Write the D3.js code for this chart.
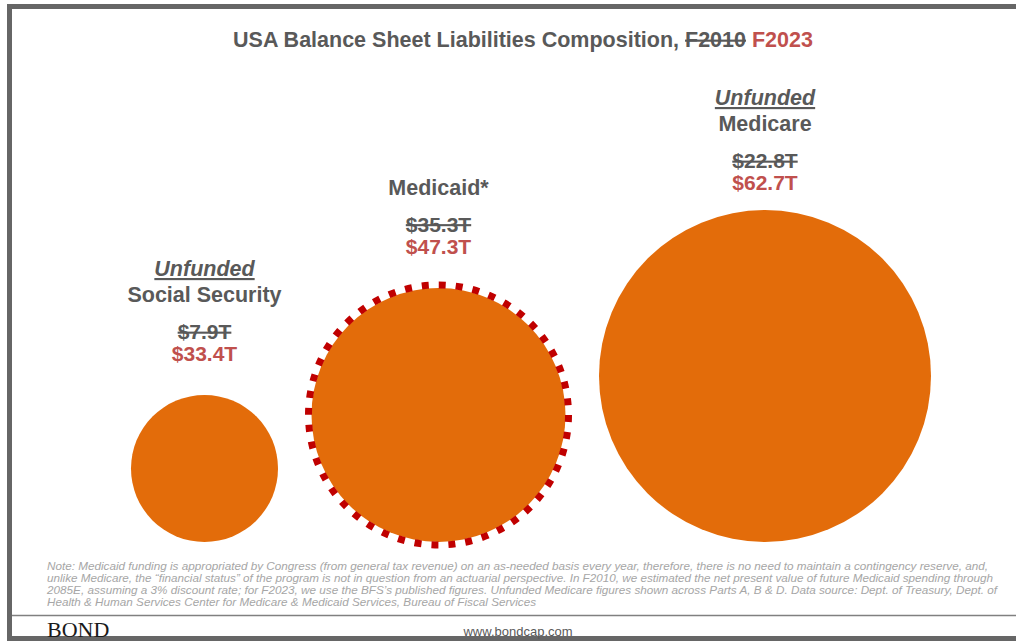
<!DOCTYPE html>
<html>
<head>
<meta charset="utf-8">
<script src="https://cdn.jsdelivr.net/npm/d3@7"></script>
<style>
  body { margin: 0; background: #fff; }
  svg { display: block; font-family: "Liberation Sans", Arial, sans-serif; }
</style>
</head>
<body>
<svg id="chart"></svg>
<script>
// data
let programs = ['Social Security', 'Medicaid*', 'Medicare'];
let unfunded = [true, false, true];
let valuesF2010 = [7.9, 35.3, 22.8];
let valuesF2023 = [33.4, 47.3, 62.7];

let noteLines = [
  'Note: Medicaid funding is appropriated by Congress (from general tax revenue) on an as-needed basis every year, therefore, there is no need to maintain a contingency reserve, and,',
  'unlike Medicare, the \u201cfinancial status\u201d of the program is not in question from an actuarial perspective. In F2010, we estimated the net present value of future Medicaid spending through',
  '2085E, assuming a 3% discount rate; for F2023, we use the BFS\u2019s published figures. Unfunded Medicare figures shown across Parts A, B & D. Data source: Dept. of Treasury, Dept. of',
  'Health & Human Services Center for Medicare & Medicaid Services, Bureau of Fiscal Services'
];

// layout
let width = 1016;
let height = 641;
let gray = '#595959';
let red = '#c0504d';
let orange = '#e36c0a';
let ringColor = '#c00000';
let bottomY = 542;
let startX = 131;
let gap = 27;
let ringExtra = 6.5;
let labelGap = [34, 28, 20];
let noteWidths = [941, 946, 950, 489];

let fmt = v => '$' + v.toFixed(1) + 'T';

let svg = d3.select('#chart').attr('width', width).attr('height', height);

// outer frame
svg.append('rect')
  .attr('x', 9.5).attr('y', 6.5)
  .attr('width', 1100).attr('height', 632)
  .attr('fill', 'none').attr('stroke', '#666').attr('stroke-width', 5);

// title
let title = svg.append('text')
  .attr('x', 523).attr('y', 47)
  .attr('text-anchor', 'middle')
  .attr('font-size', 21.5).attr('font-weight', 'bold')
  .attr('fill', gray);
title.append('tspan').text('USA Balance Sheet Liabilities Composition, ');
title.append('tspan').attr('text-decoration', 'line-through').text('F2010');
title.append('tspan').text(' ');
title.append('tspan').attr('fill', red).text('F2023');

// bubble sizes
let rScale = d3.scaleLinear()
  .domain(valuesF2023.slice().sort(d3.ascending))
  .range([73.5, 127, 166]);

let items = programs.map((p, i) => ({
  name: p,
  unfunded: unfunded[i],
  old: valuesF2010[i],
  now: valuesF2023[i],
  r: rScale(valuesF2023[i]),
  ring: !unfunded[i]
}));

let x = startX;
items.forEach(d => {
  let extra = d.ring ? ringExtra : 0;
  d.cx = x + extra + d.r;
  d.cy = bottomY - d.r;
  x = d.cx + d.r + extra + gap;
});

let g = svg.append('g');

g.selectAll('circle.bubble')
  .data(items)
  .enter()
  .append('circle')
  .attr('class', 'bubble')
  .attr('cx', d => d.cx)
  .attr('cy', d => d.cy)
  .attr('r', d => d.r)
  .attr('fill', orange);

g.selectAll('circle.ring')
  .data(items.filter(d => d.ring))
  .enter()
  .append('circle')
  .attr('class', 'ring')
  .attr('cx', d => d.cx)
  .attr('cy', d => d.cy)
  .attr('r', d => d.r + 3)
  .attr('fill', 'none')
  .attr('stroke', ringColor)
  .attr('stroke-width', 7)
  .attr('stroke-dasharray', d => {
    let c = 2 * Math.PI * (d.r + 3);
    let n = Math.round(c / 17);
    return '7 ' + (c / n - 7);
  });

// labels above each bubble
items.forEach((d, i) => {
  let top = d.cy - d.r - (d.ring ? ringExtra : 0);
  let yNow = top - labelGap[i];
  let yOld = yNow - 22;
  let yName = yOld - 37;
  let lg = svg.append('g')
    .attr('text-anchor', 'middle')
    .attr('font-weight', 'bold');

  lg.append('text')
    .attr('x', d.cx).attr('y', yNow)
    .attr('font-size', 21)
    .attr('fill', red)
    .text(fmt(d.now));
  lg.append('text')
    .attr('x', d.cx).attr('y', yOld)
    .attr('font-size', 21)
    .attr('fill', gray)
    .attr('text-decoration', 'line-through')
    .text(fmt(d.old));
  lg.append('text')
    .attr('x', d.cx).attr('y', yName)
    .attr('font-size', 21.5)
    .attr('fill', gray)
    .text(d.name);
  if (d.unfunded) {
    lg.append('text')
      .attr('x', d.cx).attr('y', yName - 26)
      .attr('font-size', 21.5)
      .attr('fill', gray)
      .attr('font-style', 'italic')
      .attr('text-decoration', 'underline')
      .text('Unfunded');
  }
});

// footnote
svg.append('g')
  .selectAll('text')
  .data(noteLines)
  .enter()
  .append('text')
  .attr('x', 47)
  .attr('y', (d, i) => 570 + i * 12)
  .attr('font-size', 11)
  .attr('font-style', 'italic')
  .attr('fill', '#a6a6a6')
  .attr('textLength', (d, i) => noteWidths[i])
  .attr('lengthAdjust', 'spacingAndGlyphs')
  .text(d => d);

// footer
svg.append('line')
  .attr('x1', 12).attr('x2', width)
  .attr('y1', 615.5).attr('y2', 615.5)
  .attr('stroke', '#808080').attr('stroke-width', 1.5);

svg.append('text')
  .attr('x', 47).attr('y', 637)
  .attr('font-family', '"Liberation Serif", "Times New Roman", serif')
  .attr('font-size', 22)
  .attr('fill', '#1a1a1a')
  .text('BOND');

svg.append('text')
  .attr('x', 518).attr('y', 636)
  .attr('text-anchor', 'middle')
  .attr('font-size', 13)
  .attr('fill', gray)
  .text('www.bondcap.com');
</script>
</body>
</html>
